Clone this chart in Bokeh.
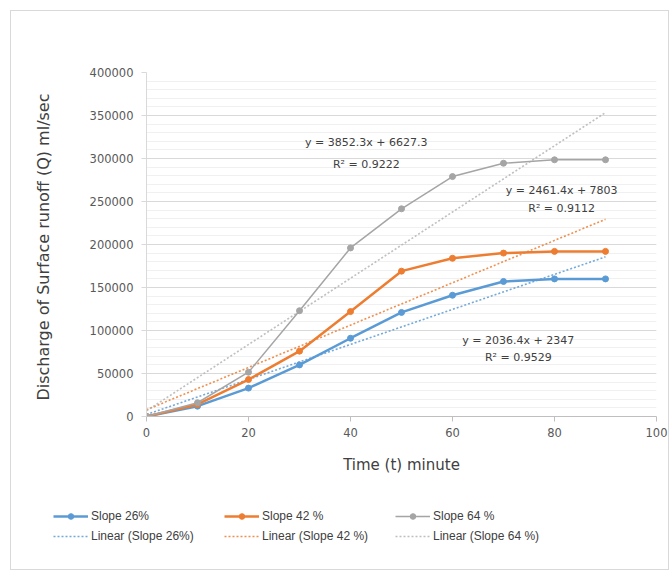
from bokeh.plotting import figure
from bokeh.models import (FixedTicker, BasicTickFormatter, Legend, LegendItem, Range1d, Spacer, Plot)
from bokeh.layouts import row, column
from bokeh.core.properties import value
from bokeh.embed import file_html
from bokeh.resources import INLINE

# ---- data ----
time_min = [0, 10, 20, 30, 40, 50, 60, 70, 80, 90]
slope_26 = [0, 12000, 33000, 60000, 91000, 121000, 141000, 157000, 160000, 160000]
slope_42 = [0, 14000, 43000, 76000, 122000, 169000, 184000, 190000, 192000, 192000]
slope_64 = [0, 16000, 51500, 123000, 196000, 241500, 279000, 294500, 298500, 298500]
series_names = ["Slope 26%", "Slope 42 %", "Slope 64 %"]
trend_slope = [2036.4, 2461.4, 3852.3]
trend_intercept = [2347, 7803, 6627.3]
trend_r2 = [0.9529, 0.9112, 0.9222]
x_ticks = [0, 20, 40, 60, 80, 100]
y_ticks = [0, 50000, 100000, 150000, 200000, 250000, 300000, 350000, 400000]

colors = ["#5B9BD5", "#ED7D31", "#A5A5A5"]
trend_colors = ["#5B9BD5", "#ED7D31", "#B4B4B4"]
AXFONT = "DejaVu Sans"
LGFONT = "Liberation Sans"

# ---- main chart ----
p = figure(width=657, height=480, output_backend="svg", toolbar_location=None,
           x_range=Range1d(0, 100), y_range=Range1d(0, 400000),
           min_border_left=135, min_border_right=12, min_border_top=61, min_border_bottom=75)
p.outline_line_color = None
p.background_fill_color = "white"
p.border_fill_color = "white"

p.xgrid.grid_line_color = None
p.ygrid.grid_line_color = "#d9d9d9"
p.ygrid.minor_grid_line_color = "#f0f0f0"
p.yaxis.ticker = FixedTicker(ticks=y_ticks, minor_ticks=list(range(0, 400001, 10000)))
p.xaxis.ticker = FixedTicker(ticks=x_ticks, minor_ticks=[])
p.yaxis.formatter = BasicTickFormatter(use_scientific=False)

for ax in (p.xaxis, p.yaxis):
    ax.major_label_text_font = AXFONT
    ax.major_label_text_font_size = "11.5px"
    ax.major_label_text_color = "#595959"
    ax.axis_label_text_font = AXFONT
    ax.axis_label_text_color = "#404040"
    ax.axis_label_text_font_style = "normal"
    ax.minor_tick_line_color = None
    ax.major_tick_in = 0
    ax.major_tick_out = 5

p.xaxis.axis_label_text_font_size = "15px"
p.yaxis.axis_label_text_font_size = "16px"
p.xaxis.axis_line_color = "#bfbfbf"
p.xaxis.major_tick_line_color = "#bfbfbf"
p.yaxis.axis_line_color = "#d9d9d9"
p.yaxis.major_tick_line_color = "#d9d9d9"
p.xaxis.axis_label = "Time (t) minute"
p.yaxis.axis_label = "Discharge of Surface runoff  (Q) ml/sec"
p.xaxis.major_label_standoff = 6
p.xaxis.axis_label_standoff = 16
p.yaxis.major_label_standoff = 8
p.yaxis.axis_label_standoff = 34

series = [slope_26, slope_42, slope_64]
widths = [2.5, 2.5, 1.5]
for i, ys in enumerate(series):
    # linear trendline from its equation
    tx = [time_min[0], time_min[-1]]
    ty = [trend_slope[i] * t + trend_intercept[i] for t in tx]
    p.line(tx, ty, line_color=trend_colors[i], line_width=1.6, line_dash="2 2", line_alpha=0.85)

for i, ys in enumerate(series):
    p.line(time_min, ys, line_color=colors[i], line_width=widths[i])
    p.scatter(time_min, ys, size=6, fill_color=colors[i], line_color=colors[i])

# equation labels (Excel trendline labels)
eq_x = [72.9, 81.4, 43.1]
eq_y = [88400, 262800, 318600]
r2_y = [68600, 241900, 293000]
for i in range(3):
    p.text(x=[eq_x[i]], y=[eq_y[i]],
           text=["y = %sx + %s" % (trend_slope[i], trend_intercept[i])],
           text_font=value(AXFONT), text_font_size="11px", text_color="#404040",
           text_align="center", text_baseline="middle")
    p.text(x=[eq_x[i]], y=[r2_y[i]],
           text=["R\u00b2 = %s" % trend_r2[i]],
           text_font=value(AXFONT), text_font_size="11px", text_color="#404040",
           text_align="center", text_baseline="middle")

# ---- legend strip: same series drawn out of view, used as the key ----
pl = figure(width=657, height=78, output_backend="svg", toolbar_location=None,
            x_range=Range1d(-2, -1), y_range=Range1d(-2, -1),
            x_axis_type=None, y_axis_type=None, min_border=0)
if "frame_align" in Plot.properties():
    pl.frame_align = False
    p.frame_align = False
pl.outline_line_color = None
pl.grid.visible = False
pl.background_fill_color = "white"
pl.border_fill_color = "white"

main_items = []
trend_items = []
for i, ys in enumerate(series):
    lr = pl.line(time_min, ys, line_color=colors[i], line_width=widths[i])
    sr = pl.scatter(time_min, ys, size=6, fill_color=colors[i], line_color=colors[i])
    main_items.append(LegendItem(label=series_names[i], renderers=[lr, sr]))
for i in range(3):
    tx = [time_min[0], time_min[-1]]
    ty = [trend_slope[i] * t + trend_intercept[i] for t in tx]
    tr = pl.line(tx, ty, line_color=trend_colors[i], line_width=1.6, line_dash="2 2", line_alpha=0.85)
    trend_items.append(LegendItem(label="Linear (" + series_names[i] + ")", renderers=[tr]))

common = dict(orientation="horizontal", border_line_color=None, background_fill_alpha=0,
              label_text_font=LGFONT, label_text_font_size="12px", label_text_color="#404040",
              glyph_width=35, glyph_height=14, label_standoff=3, spacing=20,
              label_width=113, padding=0, margin=0, label_height=14)
legend1 = Legend(items=main_items, location=(42, 46), **common)
legend2 = Legend(items=trend_items, location=(42, 26), **common)
pl.add_layout(legend1, "center")
pl.add_layout(legend2, "center")

chart = column(p, pl, styles={"border": "1px solid #d9d9d9"})
layout = column(Spacer(height=10), row(Spacer(width=10), chart))
open("out.html", "w").write(file_html(layout, INLINE))
